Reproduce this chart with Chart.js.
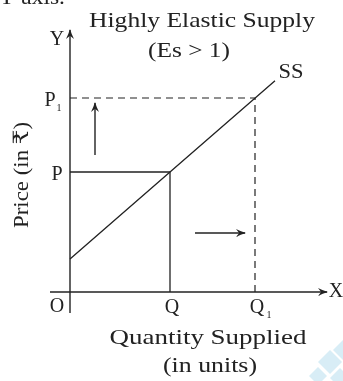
<!DOCTYPE html>
<html lang="en">
  <head>
    <meta charset="UTF-8" />
    <title>Highly Elastic Supply</title>
    <script src="https://cdn.jsdelivr.net/npm/chart.js@4.4.0/dist/chart.umd.min.js"></script>
    <style>
      html, body { margin: 0; padding: 0; background: #fff; }
      canvas { display: block; }
    </style>
  </head>
  <body>
    <canvas id="chart" width="343" height="381"></canvas>

    <script>
      //data (one unit = one step on both axes, origin O at 0,0)
      const quantities = [4.0, 7.4];      // Q, Q1
      const prices = [4.8, 7.76];         // P, P1
      const supplyX = [0, 4.0, 8.2];      // SS curve
      const supplyY = [1.32, 4.8, 8.45];
      const qLabels = ['Q', 'Q'];         // subscripts drawn separately
      const qSubs = ['', '1'];
      const pLabels = ['P', 'P'];
      const pSubs = ['', '1'];

      // frame of the diagram
      const view = { xMin: -2.8, xMax: 10.92, yMin: -3.56, yMax: 11.68 };
      const axisY = [{ x: 0, y: -0.84 }, { x: 0, y: 10.48 }];
      const axisX = [{ x: -0.8, y: 0 }, { x: 10.28, y: 0 }];
      const priceArrow = [{ x: 1.0, y: 5.48 }, { x: 1.0, y: 7.56 }];
      const qtyArrow = [{ x: 5.0, y: 2.36 }, { x: 7.0, y: 2.36 }];

      const ink = '#222';
      const serif = '"Liberation Serif", "DejaVu Serif", serif';

      const line = (pts, extra) => Object.assign({
        data: pts,
        borderColor: ink,
        borderWidth: 1.4,
        pointRadius: 0,
        fill: false,
        tension: 0
      }, extra || {});

      const data = {
        datasets: [
          line(axisY, { arrowHead: true }),
          line(axisX, { arrowHead: true }),
          line(supplyX.map((x, i) => ({ x: x, y: supplyY[i] })), { borderWidth: 1.3 }),
          line([
            { x: 0, y: prices[0] },
            { x: quantities[0], y: prices[0] },
            { x: quantities[0], y: 0 }
          ], { borderWidth: 1.3 }),
          line([
            { x: 0, y: prices[1] },
            { x: quantities[1], y: prices[1] },
            { x: quantities[1], y: 0 }
          ], { borderWidth: 1.2, borderDash: [7, 5] }),
          line(priceArrow, { arrowHead: true }),
          line(qtyArrow, { arrowHead: true })
        ]
      };

      // arrow heads at the end of flagged lines
      const arrowHeads = {
        id: 'arrowHeads',
        afterDatasetsDraw(chart) {
          const ctx = chart.ctx;
          chart.data.datasets.forEach((ds, i) => {
            if (!ds.arrowHead) return;
            const pts = chart.getDatasetMeta(i).data;
            const a = pts[pts.length - 2], b = pts[pts.length - 1];
            const ang = Math.atan2(b.y - a.y, b.x - a.x);
            const len = 9, half = 4;
            ctx.save();
            ctx.translate(b.x, b.y);
            ctx.rotate(ang);
            ctx.fillStyle = ink;
            ctx.beginPath();
            ctx.moveTo(1, 0);
            ctx.quadraticCurveTo(-len * 0.5, -half * 0.4, -len, -half);
            ctx.lineTo(-len * 0.65, 0);
            ctx.lineTo(-len, half);
            ctx.quadraticCurveTo(-len * 0.5, half * 0.4, 1, 0);
            ctx.fill();
            ctx.restore();
          });
        }
      };

      // faint watermark in the lower right corner
      const watermark = {
        id: 'watermark',
        beforeDraw(chart) {
          const ctx = chart.ctx;
          ctx.save();
          ctx.fillStyle = '#fff';
          ctx.fillRect(0, 0, chart.width, chart.height);
          ctx.fillStyle = 'rgba(190, 225, 240, 0.6)';
          [[330, 362, 12], [318, 376, 9], [343, 350, 10], [340, 378, 10]].forEach(([cx, cy, r]) => {
            ctx.beginPath();
            ctx.moveTo(cx, cy - r);
            ctx.lineTo(cx + r, cy);
            ctx.lineTo(cx, cy + r);
            ctx.lineTo(cx - r, cy);
            ctx.closePath();
            ctx.fill();
          });
          ctx.restore();
        }
      };

      // text labels placed from the data values
      const labels = {
        id: 'labels',
        afterDraw(chart) {
          const ctx = chart.ctx;
          const xs = chart.scales.x, ys = chart.scales.y;
          const px = (v) => xs.getPixelForValue(v);
          const py = (v) => ys.getPixelForValue(v);
          const text = (t, x, y, size, align) => {
            ctx.font = size + 'px ' + serif;
            ctx.textAlign = align || 'center';
            ctx.fillText(t, x, y);
          };
          // the printed face is wider than Times, so stretch to the measured width
          const wide = (t, x, y, size, w) => {
            ctx.font = size + 'px ' + serif;
            ctx.textAlign = 'center';
            const k = w / ctx.measureText(t).width;
            ctx.save();
            ctx.translate(x, y);
            ctx.scale(k, 1);
            ctx.fillText(t, 0, 0);
            ctx.restore();
          };
          ctx.save();
          ctx.fillStyle = ink;

          // cut-off line of text above the figure
          ctx.textBaseline = 'alphabetic';
          ctx.save();
          ctx.translate(65, 4);
          ctx.scale(1.12, 1);
          text('from Y axis.', 0, 0, 21, 'right');
          ctx.restore();
          ctx.textBaseline = 'middle';

          wide('Highly Elastic Supply', 202, 21, 21, 226);
          wide('(Es > 1)', 189, 51, 21, 82);

          text('Y', px(0) - 13, py(axisY[1].y) + 10, 20);
          text('X', px(axisX[1].x) + 9, py(0), 20);
          text('O', px(0) - 13, py(0) + 15, 20);
          wide('SS', px(supplyX[2]) + 16, py(supplyY[2]) - 8, 20, 25);

          pLabels.forEach((t, i) => {
            const y = py(prices[i]) + 3;
            const x = px(0) - (pSubs[i] ? 20 : 13);
            text(t, x, y, 20);
            if (pSubs[i]) text(pSubs[i], x + 9, y + 7, 10);
          });
          qLabels.forEach((t, i) => {
            const x = px(quantities[i]) + 2;
            const y = py(0) + 16;
            text(t, x, y, 20);
            if (qSubs[i]) text(qSubs[i], x + 12, y + 7, 10);
          });

          wide('Quantity Supplied', 208, 338, 21, 197);
          wide('(in units)', 210, 366, 21, 94);

          ctx.save();
          ctx.translate(22, 175);
          ctx.rotate(-Math.PI / 2);
          wide('Price (in \u20B9)', 0, 0, 21, 106);
          ctx.restore();

          ctx.restore();
        }
      };

      //config
      const config = {
        type: 'line',
        data: data,
        options: {
          responsive: false,
          animation: false,
          events: [],
          layout: { padding: 0 },
          scales: {
            x: { type: 'linear', min: view.xMin, max: view.xMax, display: false },
            y: { type: 'linear', min: view.yMin, max: view.yMax, display: false }
          },
          plugins: {
            legend: { display: false },
            tooltip: { enabled: false }
          }
        },
        plugins: [watermark, arrowHeads, labels]
      };

      //init
      const chart = new Chart(document.getElementById('chart'), config);
    </script>
  </body>
</html>
